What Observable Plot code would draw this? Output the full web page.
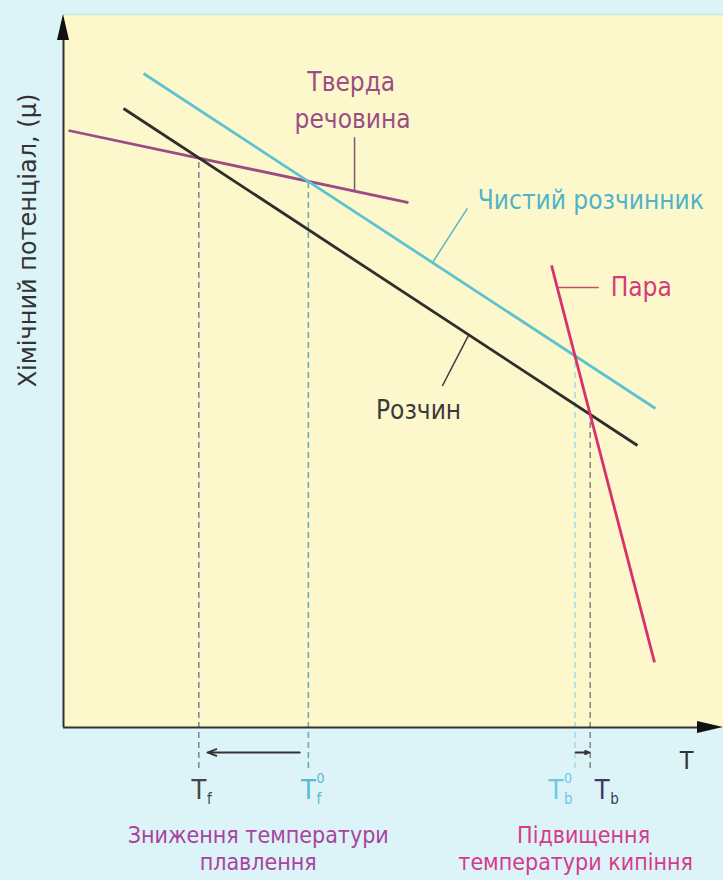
<!DOCTYPE html>
<html>
<head>
<meta charset="utf-8">
<script src="https://cdn.jsdelivr.net/npm/d3@7"></script>
<script src="https://cdn.jsdelivr.net/npm/@observablehq/plot@0.6"></script>
<style>
  html, body { margin: 0; padding: 0; background: #dcf3f8; }
  #chart { width: 723px; height: 880px; }
</style>
</head>
<body>
<div id="chart"></div>
<script>
// ---- Data ----
const lineNames  = ["Тверда речовина", "Чистий розчинник", "Розчин", "Пара"];
const lineT1     = [0.76, 12.12, 9.09, 73.94];
const lineMu1    = [83.73, 91.72, 86.82, 64.80];
const lineT2     = [52.27, 89.70, 86.97, 89.55];
const lineMu2    = [73.63, 44.74, 39.55, 9.12];
const lineColors = ["#9b4c84", "#5ec3cf", "#2e2e2e", "#d8316b"];

// Characteristic temperatures (dashed guides)
const tickMain   = ["T", "T", "T", "T"];
const tickSub    = ["f", "f", "b", "b"];
const tickSup    = ["", "0", "0", ""];
const tickT      = [20.5, 37.1, 77.5, 79.8];
const tickLine   = [0, 0, 3, 3];          // which curve the guide rises to
const tickColors = ["#454545", "#58b9cf", "#6cc8e2", "#3e3b5e"];
const tickDash   = ["#8a86a8", "#6fa8b6", "#a8dbe4", "#8a8a8a"];
const tickLabelShift = [0, 0, -2.9, 1.8];  // label offset along T

// Curve labels
const labelText  = ["Тверда", "речовина", "Чистий розчинник", "Розчин"];
const labelT     = [43.6, 43.8, 79.9, 53.8];
const labelMu    = [90.4, 85.3, 73.9, 44.4];
const labelColor = ["#9a4e86", "#9a4e86", "#4fb3c9", "#3a3a3a"];
const vaporLabel = {s: "Пара", t: 82.9, mu: 61.7, color: "#d63a78"};

// Leader lines: from label (t1, mu1) to point on curve at t2
const leaderT1   = [44.1, 61.2, 57.4, 81.1];
const leaderMu1  = [82.8, 72.8, 47.9, 61.7];
const leaderT2   = [44.1, 55.9, 61.4, 74.81];
const leaderLine = [0, 1, 2, 3];
const leaderColor = ["#7a5a6e", "#5ab6c8", "#3a3a3a", "#c0506a"];

// Captions below the axis
const captionText  = ["Зниження температури", "плавлення", "Підвищення", "температури кипіння"];
const captionT     = [29.5, 29.5, 78.8, 77.6];
const captionRow   = [0, 1, 0, 1];
const captionColor = ["#a8449e", "#a8449e", "#d63a8c", "#d63a8c"];

const yLabel = "Хімічний потенціал, (μ)";
const xLabel = "T";

// ---- Layout helpers (pixel offsets below the T axis, in μ units) ----
const PX_MU = 100 / 713;
const below = px => -px * PX_MU;
const belowAxis = below(41);

// ---- Derived tables ----
function muAt(i, t) {
  return lineMu1[i] + (lineMu2[i] - lineMu1[i]) * (t - lineT1[i]) / (lineT2[i] - lineT1[i]);
}
const lines = lineNames.map((n, i) => ({name: n, t1: lineT1[i], mu1: lineMu1[i], t2: lineT2[i], mu2: lineMu2[i], color: lineColors[i]}));
const ticks = tickT.map((t, i) => ({t, lt: t + tickLabelShift[i], top: muAt(tickLine[i], t), main: tickMain[i], sub: tickSub[i], sup: tickSup[i], color: tickColors[i], dash: tickDash[i]}));
const labels = labelText.map((s, i) => ({s, t: labelT[i], mu: labelMu[i], color: labelColor[i]}));
const leaders = leaderT1.map((t, i) => ({t1: t, mu1: leaderMu1[i], t2: leaderT2[i], mu2: muAt(leaderLine[i], leaderT2[i]), color: leaderColor[i]}));
const captions = captionText.map((s, i) => ({s, t: captionT[i], mu: below(captionRow[i] ? 135 : 108), color: captionColor[i]}));
const arrows = [
  {from: tickT[1] - 1.3, to: tickT[0] + 1.3},
  {from: tickT[2] + 0.1, to: tickT[3] - 0.1}
];

const FONT = "DejaVu Sans Condensed, DejaVu Sans, sans-serif";
const SUB_DT = 1.25;

const plot = Plot.plot({
  width: 723,
  height: 880,
  marginTop: 14,
  marginBottom: 153,
  marginLeft: 63,
  marginRight: 0,
  x: {domain: [0, 100], axis: null},
  y: {domain: [0, 100], axis: null},
  style: {background: "transparent", fontFamily: FONT},
  marks: [
    Plot.frame({fill: "#fdf8cb", stroke: null}),
    Plot.ruleY([100], {x1: 0, x2: 100, stroke: "#c4e3ea", strokeWidth: 1.5}),
    // dashed guides
    Plot.ruleX(ticks, {x: "t", y1: belowAxis, y2: "top", stroke: "dash", strokeWidth: 1.6, strokeDasharray: "6,4"}),
    // leader lines
    Plot.link(leaders, {x1: "t1", y1: "mu1", x2: "t2", y2: "mu2", stroke: "color", strokeWidth: 1.5}),
    // curves
    Plot.link(lines, {x1: "t1", y1: "mu1", x2: "t2", y2: "mu2", stroke: "color", strokeWidth: 2.8}),
    // axes
    Plot.ruleX([0], {y1: 0, y2: 97, stroke: "#333", strokeWidth: 2}),
    Plot.ruleY([0], {x1: 0, x2: 97, stroke: "#333", strokeWidth: 2}),
    // shift arrows
    Plot.arrow(arrows, {x1: "from", x2: "to", y1: below(25), y2: below(25), stroke: "#333", strokeWidth: 1.8, headLength: 8, headAngle: 40}),
    // curve labels
    Plot.text(labels, {x: "t", y: "mu", text: "s", fill: "color", textAnchor: "middle", fontSize: 26}),
    Plot.text([vaporLabel], {x: "t", y: "mu", text: "s", fill: "color", textAnchor: "start", fontSize: 26}),
    // tick labels
    Plot.text(ticks, {x: "lt", y: below(63), text: "main", fill: "color", fontSize: 27}),
    Plot.text(ticks, {x: d => d.lt + SUB_DT, y: below(72), text: "sub", fill: "color", fontSize: 15, textAnchor: "start"}),
    Plot.text(ticks, {x: d => d.lt + SUB_DT, y: below(51), text: "sup", fill: "color", fontSize: 14, textAnchor: "start"}),
    // captions
    Plot.text(captions, {x: "t", y: "mu", text: "s", fill: "color", fontSize: 23}),
    // axis labels
    Plot.text([xLabel], {x: 94.4, y: below(33), text: d => d, fill: "#333", fontSize: 25}),
    Plot.text([yLabel], {frameAnchor: "left", y: 68.3, text: d => d, dx: -35, rotate: -90, textAnchor: "middle", fill: "#333", fontSize: 24, fontFamily: "DejaVu Sans, sans-serif"})
  ]
});

document.getElementById("chart").appendChild(plot);

// axis arrowheads
const sx = plot.scale("x"), sy = plot.scale("y");
const svg = d3.select(plot);
const x0 = sx.apply(0), y0 = sy.apply(0);
svg.append("path")
  .attr("d", `M${x0},14 L${x0 - 6},40 L${x0 + 6},40 Z`)
  .attr("fill", "#111");
svg.append("path")
  .attr("d", `M723,${y0} L697,${y0 - 6} L697,${y0 + 6} Z`)
  .attr("fill", "#111");
</script>
</body>
</html>
